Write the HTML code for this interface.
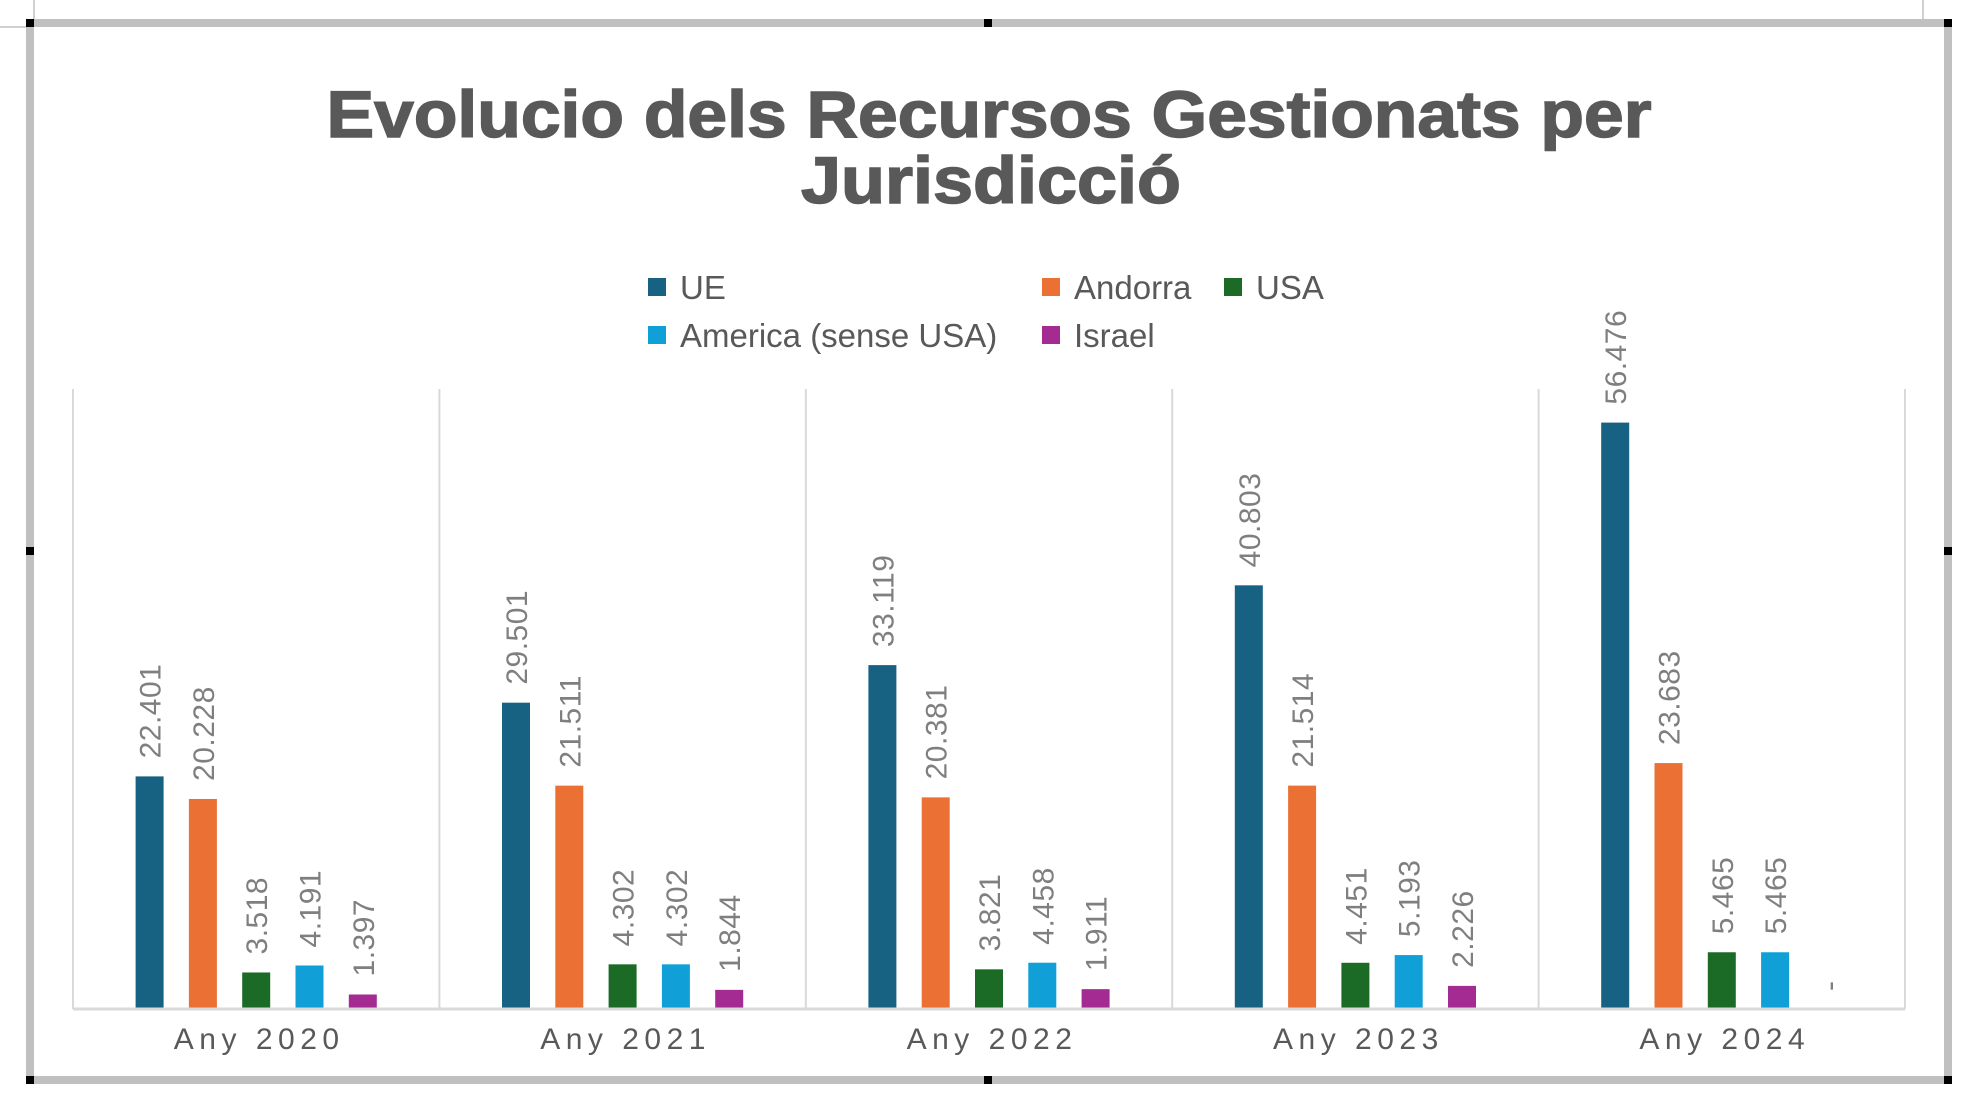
<!DOCTYPE html>
<html><head><meta charset="utf-8"><style>
html,body{margin:0;padding:0;background:#fff;}
svg{display:block;font-family:"Liberation Sans",Arial,sans-serif;}
</style></head><body>
<svg id="chart" width="1981" height="1113" viewBox="0 0 1981 1113">
  <g>
    <line x1="34" y1="0" x2="34" y2="21" stroke="#d0d0d0" stroke-width="2"/>
    <line x1="0" y1="27" x2="28" y2="27" stroke="#d0d0d0" stroke-width="2"/>
    <line x1="1923" y1="0" x2="1923" y2="19" stroke="#d0d0d0" stroke-width="2"/>
    <rect x="26" y="19" width="1926" height="8" fill="#c0c0c0"/>
    <rect x="26" y="1076" width="1926" height="8" fill="#c0c0c0"/>
    <rect x="26" y="19" width="8" height="1065" fill="#c0c0c0"/>
    <rect x="1944" y="19" width="8" height="1065" fill="#c0c0c0"/>
    <rect x="26" y="19" width="8" height="8" fill="#000"/>
    <rect x="984" y="19" width="8" height="8" fill="#000"/>
    <rect x="1944" y="19" width="8" height="8" fill="#000"/>
    <rect x="26" y="547" width="8" height="8" fill="#000"/>
    <rect x="1944" y="547" width="8" height="8" fill="#000"/>
    <rect x="26" y="1076" width="8" height="8" fill="#000"/>
    <rect x="984" y="1076" width="8" height="8" fill="#000"/>
    <rect x="1944" y="1076" width="8" height="8" fill="#000"/>
  </g>
  <g fill="#595959" font-weight="bold" text-anchor="middle">
    <text x="989" y="137" font-size="66" stroke="#595959" stroke-width="1.5" textLength="1325" lengthAdjust="spacingAndGlyphs">Evolucio dels Recursos Gestionats per</text>
    <text x="991" y="203" font-size="66" stroke="#595959" stroke-width="1.5" textLength="380" lengthAdjust="spacingAndGlyphs">Jurisdicció</text>
  </g>
  <g id="legend" font-size="33" fill="#595959"></g>
  <g id="grid"></g>
  <g id="bars"></g>
  <g id="labels"></g>
  <g id="xaxis"></g>
</svg>
<script>
const categories = ["Any 2020","Any 2021","Any 2022","Any 2023","Any 2024"];
const seriesNames = ["UE","Andorra","USA","America (sense USA)","Israel"];
const seriesColors = ["#176182","#ea7034","#1b6b27","#119fd8","#a32b92"];
const ueValues = [22.401,29.501,33.119,40.803,56.476];
const andorraValues = [20.228,21.511,20.381,21.514,23.683];
const usaValues = [3.518,4.302,3.821,4.451,5.465];
const americaValues = [4.191,4.302,4.458,5.193,5.465];
const israelValues = [1.397,1.844,1.911,2.226,0];
const yMax = 60;

const NS = "http://www.w3.org/2000/svg";
const plotL = 73, plotR = 1905, plotTop = 389, baseY = 1009;
const groupW = (plotR - plotL) / categories.length;
const barStep = 53.3, barW = 28;
function yScale(v){ return baseY - (v / yMax) * (baseY - 386); }
function xCenter(ci, si){ return plotL + groupW * (ci + 0.5) + (si - 2) * barStep; }
function mk(tag, attrs, parent){ const e = document.createElementNS(NS, tag); for (const k in attrs) e.setAttribute(k, attrs[k]); parent.appendChild(e); return e; }
function fmt(v){ return v === 0 ? "-" : v.toFixed(3); }

const series = [ueValues, andorraValues, usaValues, americaValues, israelValues];

const grid = document.getElementById("grid");
for (let i = 0; i <= categories.length; i++) {
  const x = plotL + groupW * i;
  const l = mk("line", {x1:x, y1:plotTop, x2:x, y2:baseY, stroke:"#d9d9d9", "stroke-width":2}, grid);
  
  
}

const barsG = document.getElementById("bars"), labG = document.getElementById("labels");
categories.forEach((c, ci) => {
  series.forEach((vals, si) => {
    const v = vals[ci], cx = xCenter(ci, si), top = yScale(v);
    if (v > 0) {
      const r = mk("rect", {x:cx - barW/2, y:top, width:barW, height:baseY - top, fill:seriesColors[si]}, barsG);
      
      
    }
    const t = mk("text", {x:0, y:0, "font-size":30, fill:"#7f7f7f", "letter-spacing":"0.5", transform:"translate(" + (cx + 11) + "," + (top - 18) + ") rotate(-90)"}, labG);
    
    
    t.textContent = fmt(v);
  });
});

const xa = document.getElementById("xaxis");
const axisLine = mk("line", {x1:plotL, y1:baseY, x2:plotR, y2:baseY, stroke:"#d9d9d9", "stroke-width":3}, xa);


categories.forEach((c, ci) => {
  const t = mk("text", {x:plotL + groupW*(ci+0.5) + 3, y:1049, "text-anchor":"middle", "font-size":30, fill:"#595959", "letter-spacing":"5.5"}, xa);
  
  
  t.textContent = c;
});

const lg = document.getElementById("legend");
const legPos = [[648,287],[1042,287],[1224,287],[648,335],[1042,335]];
seriesNames.forEach((n, i) => {
  const [x, y] = legPos[i];
  const g = mk("g", {}, lg);
  
  
  mk("rect", {x:x, y:y - 9, width:18, height:18, fill:seriesColors[i]}, g);
  const t = mk("text", {x:x + 32, y:y + 12}, g);
  t.textContent = n;
});
</script>
</body></html>
